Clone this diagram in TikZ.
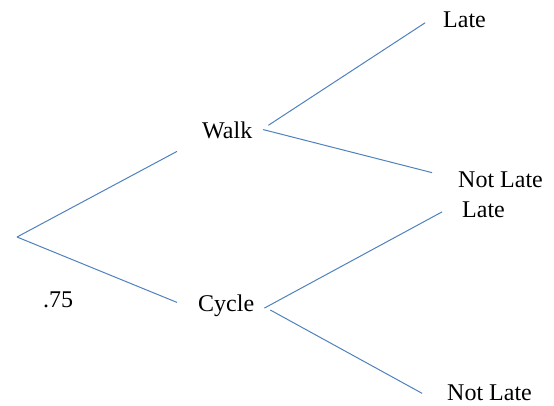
\documentclass[tikz,border=0pt]{standalone}
\usepackage{fontspec}
\setmainfont{Liberation Serif}
\usetikzlibrary{positioning}
\definecolor{branchblue}{RGB}{79,129,189}
\tikzset{branch/.style={draw=branchblue, line width=1pt}}
\tikzset{outcome/.style={inner sep=0pt, anchor=base west, font=\fontsize{24}{29}\selectfont}}

\begin{document}
\begin{tikzpicture}[x=1pt, y=-1pt]
  \useasboundingbox (0,0) rectangle (554,405);
  \coordinate (root) at (17,237);

  %%%% First choice
  \node[outcome](walk)  at (202,138) {Walk};
  \node[outcome](cycle) at (198,311) {Cycle};
  \node[outcome](p75)   at (43,307)  {.75};

  %%%% Second choice
  \node[outcome](late1)    at (443,27)  {Late};
  \node[outcome](notlate1) at (458,187) {Not Late};
  \node[outcome](late2)    at (462,217) {Late};
  \node[outcome](notlate2) at (447,400) {Not Late};

  %%%% Root branches
  \draw[branch, shorten >=28.4pt] (root) -- (walk.base west);
  \draw[branch, shorten >=22.7pt] (root) -- (cycle.base west);

  %%%% Walk branches
  \draw[branch, shorten <=19pt, shorten >=21.3pt] (walk.mid east) -- (late1.north west);
  \draw[branch, shorten <=11.1pt, shorten >=26.8pt] ([yshift=3pt]walk.east) -- (notlate1.west);

  %%%% Cycle branches
  \draw[branch, shorten <=11.3pt, shorten >=22.6pt] ([yshift=-2.5pt]cycle.base east) -- (late2.north west);
  \draw[branch, shorten <=18.2pt, shorten >=28.4pt] ([yshift=4pt]cycle.east) -- ([yshift=-7pt]notlate2.base west);
\end{tikzpicture}
\end{document}
